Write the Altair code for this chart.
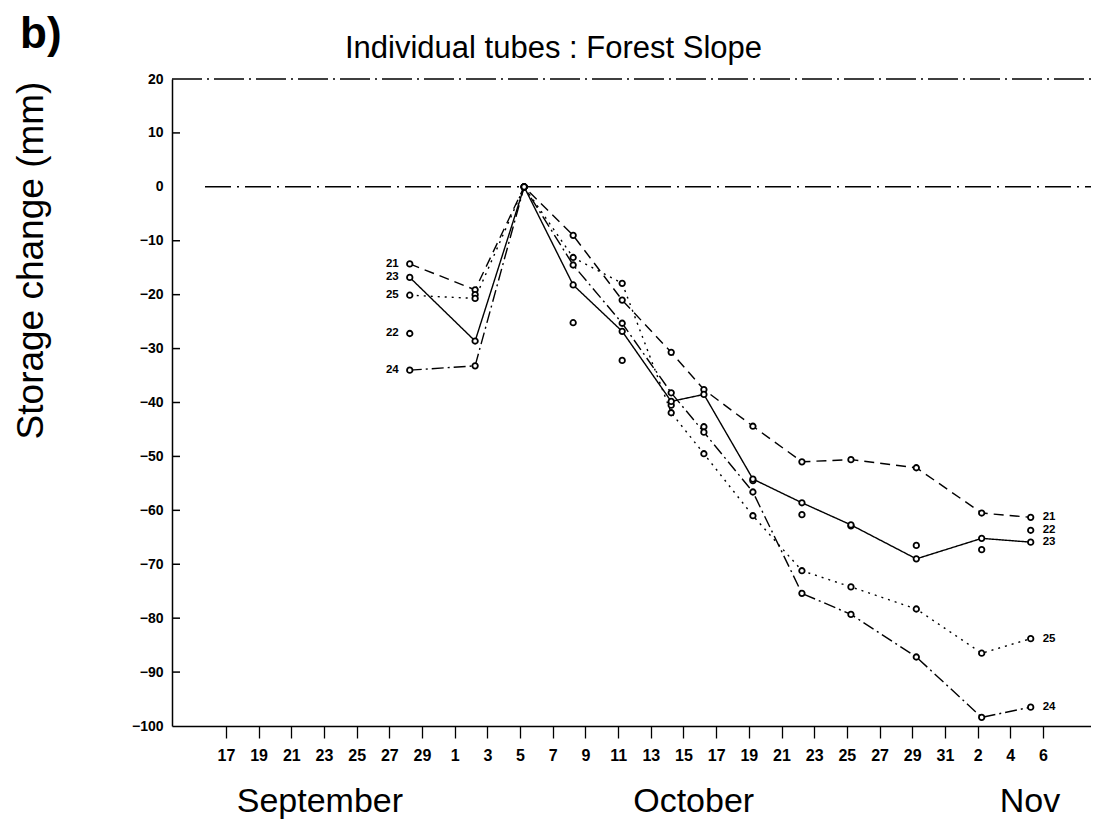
import altair as alt
import pandas as pd

# ---- data ----
dates = ["1990-09-28T06:00", "1990-10-02T06:00", "1990-10-05T06:00", "1990-10-08T06:00",
         "1990-10-11T06:00", "1990-10-14T06:00", "1990-10-16T06:00", "1990-10-19T06:00",
         "1990-10-22T06:00", "1990-10-25T06:00", "1990-10-29T06:00", "1990-11-02T06:00",
         "1990-11-05T06:00"]
tubes = ["21", "22", "23", "24", "25"]
tube21 = [-14.3, -19.1, 0.0, -9.0, -21.0, -30.7, -37.6, -44.4, -51.0, -50.6, -52.1, -60.5, -61.3]
tube22 = [-27.2, -20.0, 0.0, -25.2, -32.2, -40.5, -44.5, -54.5, -60.8, -62.9, -66.5, -67.3, -63.7]
tube23 = [-16.8, -28.6, 0.0, -18.2, -26.8, -39.8, -38.5, -54.2, -58.6, -62.7, -69.0, -65.2, -65.9]
tube24 = [-34.0, -33.2, 0.0, -14.5, -25.3, -38.2, -45.5, -56.6, -75.4, -79.3, -87.2, -98.4, -96.5]
tube25 = [-20.1, -20.7, 0.0, -13.1, -17.9, -41.9, -49.5, -61.0, -71.2, -74.2, -78.3, -86.5, -83.8]

tick_months = [9, 9, 9, 9, 9, 9, 9, 10, 10, 10, 10, 10, 10, 10, 10, 10, 10, 10, 10, 10, 10, 10, 10, 11, 11, 11]
tick_days = [17, 19, 21, 23, 25, 27, 29, 1, 3, 5, 7, 9, 11, 13, 15, 17, 19, 21, 23, 25, 27, 29, 31, 2, 4, 6]
y_ticks = [-100, -90, -80, -70, -60, -50, -40, -30, -20, -10, 0, 10, 20]
inner_ticks = [-90, -80, -70, -60, -50, -40, -30, -20, -10, 10]
ref_levels = [0, 20]

month_names = ["September", "October", "Nov"]
month_dates = ["1990-09-22T18:00:00", "1990-10-15T15:00:00", "1990-11-05T05:00:00"]

title_text = "Individual tubes : Forest Slope"
panel_text = "b)"

# ---- tables ----
series = {"21": tube21, "22": tube22, "23": tube23, "24": tube24, "25": tube25}
rows = []
for t in tubes:
    for d, v in zip(dates, series[t]):
        rows.append({"date": d, "tube": t, "value": v})
df = pd.DataFrame(rows)
df["date"] = pd.to_datetime(df["date"])

first = df[df["date"] == df["date"].min()]
last = df[df["date"] == df["date"].max()]
lines_df = df[df["tube"] != "22"]

months_df = pd.DataFrame({"name": month_names, "date": pd.to_datetime(month_dates)})
ticks_df = pd.DataFrame({"v": inner_ticks})
zero_df = pd.DataFrame({"v": [ref_levels[0]]})
top_df = pd.DataFrame({"v": [ref_levels[1]]})
panel_df = pd.DataFrame({"t": [panel_text]})
title_df = pd.DataFrame({"t": [title_text]})

W, H = 919, 647
FONT = "Liberation Sans"

xscale = alt.Scale(domain=[alt.DateTime(year=1990, month=9, date=13, hours=16, minutes=48),
                           alt.DateTime(year=1990, month=11, date=8, hours=22, minutes=34)])
yscale = alt.Scale(domain=[-100, 20], nice=False, zero=False)

x_axis = alt.Axis(
    values=[alt.DateTime(year=1990, month=m, date=d) for m, d in zip(tick_months, tick_days)],
    tickCount=60,
    labelExpr="date(datum.value)", title=None, grid=False,
    tickSize=12, tickColor="black", tickWidth=1.3,
    domainColor="black", domainWidth=1.5,
    labelFont=FONT, labelFontSize=16, labelFontWeight="bold", labelColor="black",
    labelPadding=9, labelAngle=0, labelOverlap=False, labelFlush=False,
)
y_axis = alt.Axis(
    values=y_ticks, tickCount=30, title="Storage change (mm)", grid=False, ticks=False,
    domainColor="black", domainWidth=1.5,
    labelFont=FONT, labelFontSize=14, labelFontWeight="bold", labelColor="black",
    labelPadding=9,
    titleFont=FONT, titleFontSize=37, titleFontWeight="normal", titleColor="black",
    titleAngle=270, titleAlign="center", titleBaseline="alphabetic",
    titleX=-130, titleY=181,
)

dash_scale = alt.Scale(domain=["21", "23", "24", "25"],
                       range=[[10, 6], [1, 0], [12, 4, 2, 4], [2, 5]])

lines = alt.Chart(lines_df).mark_line(color="black", strokeWidth=1.4).encode(
    x=alt.X("date:T", scale=xscale, axis=x_axis),
    y=alt.Y("value:Q", scale=yscale, axis=y_axis),
    strokeDash=alt.StrokeDash("tube:N", scale=dash_scale, legend=None),
    detail="tube:N",
)

points = alt.Chart(df).mark_point(shape="circle", size=30, fill="white", fillOpacity=1,
                                  stroke="black", strokeWidth=1.8, opacity=1).encode(
    x=alt.X("date:T", scale=xscale),
    y=alt.Y("value:Q", scale=yscale),
)

left_labels = alt.Chart(first).mark_text(font=FONT, fontSize=11.5, fontWeight="bold",
                                         align="right", baseline="middle", dx=-11,
                                         color="black").encode(
    x=alt.X("date:T", scale=xscale), y=alt.Y("value:Q", scale=yscale), text="tube:N")

right_labels = alt.Chart(last).mark_text(font=FONT, fontSize=11.5, fontWeight="bold",
                                         align="left", baseline="middle", dx=12,
                                         color="black").encode(
    x=alt.X("date:T", scale=xscale), y=alt.Y("value:Q", scale=yscale), text="tube:N")

zero_line = alt.Chart(zero_df).mark_rule(color="black", strokeWidth=1.5,
                                         strokeDash=[26, 6, 2, 6]).encode(
    y=alt.Y("v:Q", scale=yscale), x=alt.value(33), x2=alt.value(W + 4))

top_line = alt.Chart(top_df).mark_rule(color="black", strokeWidth=1.5,
                                       strokeDash=[30, 5, 2, 5]).encode(
    y=alt.Y("v:Q", scale=yscale), x=alt.value(0), x2=alt.value(W + 4))

inner = alt.Chart(ticks_df).mark_rule(color="black", strokeWidth=1.5).encode(
    y=alt.Y("v:Q", scale=yscale), x=alt.value(0), x2=alt.value(8))

months = alt.Chart(months_df).mark_text(font=FONT, fontSize=34, align="center",
                                        baseline="alphabetic", color="black").encode(
    x=alt.X("date:T", scale=xscale), y=alt.value(H + 86), text="name:N")

panel = alt.Chart(panel_df).mark_text(font=FONT, fontSize=44, fontWeight="bold",
                                      align="left", baseline="alphabetic",
                                      color="black").encode(
    x=alt.value(-152), y=alt.value(-31), text="t:N")

title = alt.Chart(title_df).mark_text(font=FONT, fontSize=31, align="left",
                                      baseline="alphabetic", color="black").encode(
    x=alt.value(173), y=alt.value(-21), text="t:N")

chart = alt.layer(
    lines, top_line, zero_line, inner, points, left_labels, right_labels, months, panel, title
).properties(
    width=W, height=H,
    autosize=alt.AutoSizeParams(type="none"),
    padding={"left": 164, "top": 71, "right": 0, "bottom": 99},
).configure_view(stroke=None).configure_axis(grid=False)

chart.save("out.html", embed_options={"renderer": "svg", "actions": False})
